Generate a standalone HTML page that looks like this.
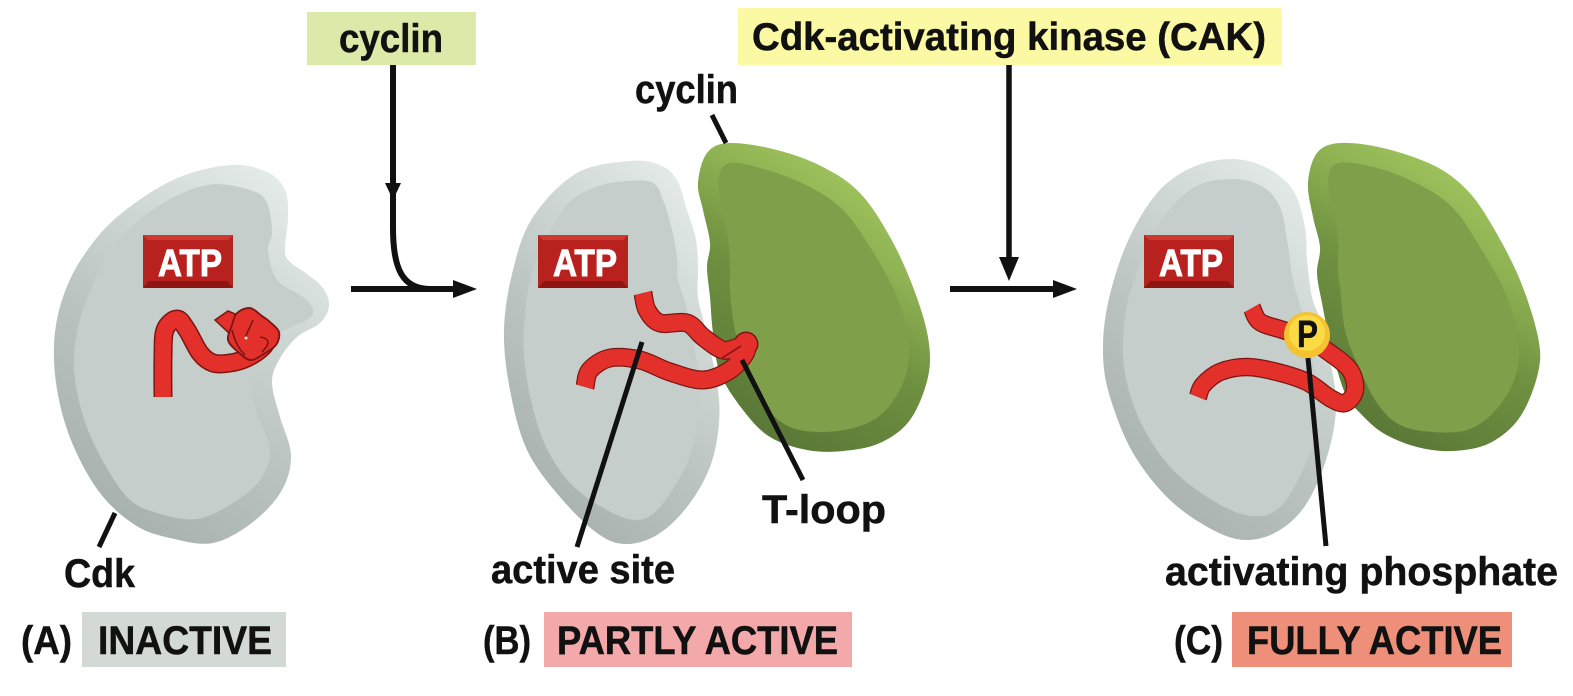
<!DOCTYPE html>
<html><head><meta charset="utf-8"><style>
html,body{margin:0;padding:0;background:#fff;width:1573px;height:696px;overflow:hidden}
svg{display:block}
text{font-family:"Liberation Sans",sans-serif;font-weight:700;fill:#111;stroke:#111;stroke-width:.5px}
</style></head><body>
<svg width="1573" height="696" viewBox="0 0 1573 696" xmlns="http://www.w3.org/2000/svg">
<defs>
<linearGradient id="gb" x1="0.8" y1="0.02" x2="0.25" y2="0.95"><stop offset="0" stop-color="#e4ebe8"/><stop offset="0.3" stop-color="#d0d8d5"/><stop offset="0.62" stop-color="#bac3bf"/><stop offset="1" stop-color="#a7b1ad"/></linearGradient>
<linearGradient id="gg" x1="0.75" y1="0" x2="0.25" y2="1"><stop offset="0" stop-color="#a8cd62"/><stop offset="0.3" stop-color="#8fb253"/><stop offset="0.55" stop-color="#6f9040"/><stop offset="1" stop-color="#577435"/></linearGradient>
<g id="atp">
<rect x="0" y="0" width="90" height="53" fill="#b3241f"/>
<polygon points="0,0 90,0 85,5 5,5" fill="#cc3a30"/>
<polygon points="0,53 90,53 84,46 6,46" fill="#8e1512"/>
<rect x="5" y="5" width="80" height="41" fill="#b8211d"/>
<text x="15" y="41" font-size="38" textLength="64" lengthAdjust="spacingAndGlyphs" style="fill:#fff;stroke:#fff;stroke-width:1px">ATP</text>
</g>
</defs>

<!-- top labels -->
<rect x="307" y="12" width="169" height="53" fill="#dbe9a9"/>
<text x="339" y="52" font-size="40" textLength="104" lengthAdjust="spacingAndGlyphs">cyclin</text>
<rect x="738" y="8" width="544" height="57" fill="#fbf9a3"/>
<text x="752" y="50" font-size="39" textLength="514" lengthAdjust="spacingAndGlyphs">Cdk-activating kinase (CAK)</text>

<!-- arrows -->
<path d="M393 65V228C393 268 402 289 430 289" fill="none" stroke="#111" stroke-width="6"/>
<polygon points="385,183 401,183 393,200" fill="#111"/>
<path d="M351 289H456" stroke="#111" stroke-width="6"/>
<polygon points="453,280 477,289 453,298" fill="#111"/>
<path d="M1009 65V262" stroke="#111" stroke-width="5.5"/>
<polygon points="999,257 1019,257 1009,281" fill="#111"/>
<path d="M950 289H1056" stroke="#111" stroke-width="6"/>
<polygon points="1053,280 1077,289 1053,298" fill="#111"/>

<!-- A -->
<path id="a1" fill="url(#gb)"/>
<path id="a2" fill="#c5cecb"/>
<use href="#atp" x="143" y="235"/>
<path id="ar0" fill="none" stroke="#7c1512" stroke-width="19"/>
<path id="ar1" fill="none" stroke="#e3302a" stroke-width="16"/>
<polygon points="215,320 228,311 240,316 232,336" fill="#e3302a" stroke="#7c1512" stroke-width="1.5"/>
<path id="ab" fill="#e3302a" stroke="#7c1512" stroke-width="1.8"/>
<path d="M253 320C250 328 246 334 245 339M260 337C268 338 272 342 262 352M232 330C236 345 240 350 245 355" fill="none" stroke="#7c1512" stroke-width="1.6"/>
<circle cx="246" cy="338" r="1.5" fill="#dfe6e3"/>
<path d="M115 513L99 547" stroke="#111" stroke-width="5"/>
<text x="64" y="587" font-size="40" textLength="71" lengthAdjust="spacingAndGlyphs">Cdk</text>

<!-- B -->
<path id="g1" fill="url(#gg)"/>
<path id="g2" fill="#7f9f4b"/>
<path id="b1" fill="url(#gb)"/>
<path id="b2" fill="#c5cecb"/>
<use href="#atp" x="538" y="235"/>
<path id="br0" fill="none" stroke="#7c1512" stroke-width="19"/>
<circle cx="746" cy="344" r="12.5" fill="#7c1512"/>
<path id="br1" fill="none" stroke="#e3302a" stroke-width="16.5"/>
<circle cx="746" cy="344" r="11" fill="#e3302a"/>
<path d="M722 358L741 346" stroke="#7c1512" stroke-width="1.5"/>
<path d="M642 342L577 547" stroke="#111" stroke-width="5"/>
<path d="M742 360L803 480" stroke="#111" stroke-width="5"/>
<path d="M712 115L726 143" stroke="#111" stroke-width="5"/>
<text x="635" y="103" font-size="40" textLength="103" lengthAdjust="spacingAndGlyphs">cyclin</text>
<text x="762" y="523" font-size="40" textLength="124" lengthAdjust="spacingAndGlyphs">T-loop</text>
<text x="491" y="583" font-size="40" textLength="184" lengthAdjust="spacingAndGlyphs">active site</text>

<!-- C -->
<path id="h1" fill="url(#gg)"/>
<path id="h2" fill="#7f9f4b"/>
<path id="c1" fill="url(#gb)"/>
<path id="c2" fill="#c5cecb"/>
<use href="#atp" x="1144" y="235"/>
<path id="cr0" fill="none" stroke="#7c1512" stroke-width="18.5"/>
<path id="cr1" fill="none" stroke="#e3302a" stroke-width="16"/>
<path d="M1308 358L1326 546" stroke="#111" stroke-width="5"/>
<circle cx="1307" cy="335" r="23" fill="#f5c232"/>
<circle cx="1307" cy="333" r="18" fill="#fbdb45"/>
<text x="1297" y="347" font-size="38" textLength="21" lengthAdjust="spacingAndGlyphs">P</text>
<text x="1165" y="585" font-size="40" textLength="393" lengthAdjust="spacingAndGlyphs">activating phosphate</text>

<!-- state labels -->
<text x="21" y="654" font-size="40" textLength="51" lengthAdjust="spacingAndGlyphs">(A)</text>
<rect x="82" y="612" width="204" height="55" fill="#d3dad6"/>
<text x="98" y="654" font-size="40" textLength="174" lengthAdjust="spacingAndGlyphs">INACTIVE</text>
<text x="483" y="654" font-size="40" textLength="48" lengthAdjust="spacingAndGlyphs">(B)</text>
<rect x="544" y="612" width="308" height="55" fill="#f3a9a9"/>
<text x="557" y="654" font-size="40" textLength="281" lengthAdjust="spacingAndGlyphs">PARTLY ACTIVE</text>
<text x="1174" y="654" font-size="40" textLength="49" lengthAdjust="spacingAndGlyphs">(C)</text>
<rect x="1232" y="612" width="280" height="55" fill="#ee8f7a"/>
<text x="1247" y="654" font-size="40" textLength="255" lengthAdjust="spacingAndGlyphs">FULLY ACTIVE</text>
</svg>
<script>
function cr(s,closed){
  var n=s.trim().split(/\s+/).map(function(a){return a.split(',').map(Number)});
  var L=n.length,d='M'+n[0][0]+' '+n[0][1];
  var last=closed?L:L-1;
  for(var i=0;i<last;i++){
    var g=function(k){return closed?n[(k+L)%L]:n[Math.max(0,Math.min(L-1,k))]};
    var p0=g(i-1),p1=g(i),p2=g(i+1),p3=g(i+2);
    d+='C'+(p1[0]+(p2[0]-p0[0])/6).toFixed(1)+' '+(p1[1]+(p2[1]-p0[1])/6).toFixed(1)+' '
      +(p2[0]-(p3[0]-p1[0])/6).toFixed(1)+' '+(p2[1]-(p3[1]-p1[1])/6).toFixed(1)+' '+p2[0]+' '+p2[1];
  }
  return d+(closed?'Z':'');
}
function set(ids,s,closed){ids.forEach(function(id){document.getElementById(id).setAttribute('d',cr(s,closed))})}
set(['a1'],'230,165 267,172 285,190 288,217 285,250 290,262 307,274 323,288 329,306 320,323 297,337 279,360 272,383 280,417 291,455 282,490 253,522 213,543 170,538 135,525 100,493 73,445 58,395 54,345 62,300 82,258 117,217 173,180',true);
set(['a2'],'207,185 250,190 267,203 272,233 268,250 277,280 303,297 313,310 307,320 280,333 257,357 250,380 257,413 270,450 260,480 233,503 197,519 157,513 127,497 97,450 80,405 74,357 84,307 113,247 157,207',true);
set(['ar0','ar1'],'163,397 163,357 165,330 177,319 187,330 200,353 213,363 230,363 247,358 263,347 270,335',false);
set(['ab'],'237,313 250,308 262,316 270,322 279,332 276,345 262,355 250,360 238,352 228,340 232,325',true);
set(['b1'],'630,161 660,165 677,180 687,210 696,240 698,270 698,297 705,327 717,383 719,423 710,467 687,507 657,535 625,544 597,533 560,497 527,450 510,390 504,330 513,270 533,217 577,173',true);
set(['b2'],'627,181 653,183 663,200 672,230 677,257 678,280 687,310 698,370 699,413 687,463 660,507 637,520 607,510 570,483 543,440 527,380 524,330 533,270 563,210 593,188',true);
set(['g1'],'730,143 777,150 823,167 860,193 890,237 913,287 928,337 928,377 910,420 880,443 843,451 807,450 770,437 743,410 720,373 713,333 710,297 707,267 710,243 703,210 698,183 707,153',true);
set(['g2'],'730,163 767,170 810,187 843,210 870,247 897,297 909,347 903,383 883,413 857,427 823,432 790,427 767,407 747,363 735,330 730,290 730,270 728,237 722,210 718,180',true);
set(['br0','br1'],'643,293 647,310 660,323 687,323 703,337 723,350 740,347 746,352 730,370 703,380 670,372 640,360 610,358 590,370 585,387',false);
set(['c1'],'1233,159 1267,168 1293,190 1305,227 1307,260 1312,297 1320,320 1332,370 1336,410 1327,457 1307,503 1280,530 1247,540 1213,530 1170,500 1133,453 1110,397 1103,353 1108,303 1127,243 1157,193 1193,167',true);
set(['c2'],'1233,179 1263,187 1280,207 1287,240 1293,280 1303,317 1320,397 1317,430 1303,470 1280,507 1253,516 1217,503 1173,470 1143,427 1127,383 1123,343 1130,293 1157,227 1193,188',true);
set(['h1'],'1340,143 1383,148 1433,165 1467,190 1493,227 1520,280 1538,337 1538,373 1520,417 1490,443 1453,451 1417,447 1383,433 1360,413 1347,397 1338,373 1330,343 1322,303 1317,273 1320,247 1313,217 1308,183 1317,153',true);
set(['h2'],'1338,163 1377,168 1420,185 1453,208 1480,247 1507,297 1519,347 1513,383 1493,413 1467,430 1433,432 1400,425 1377,403 1357,363 1345,330 1340,287 1338,270 1338,237 1332,207 1328,180',true);
set(['cr0','cr1'],'1252,308 1260,322 1283,330 1307,338 1330,353 1350,370 1355,390 1345,403 1330,398 1307,382 1277,372 1247,367 1220,372 1203,385 1198,397',false);
</script>
</body></html>
